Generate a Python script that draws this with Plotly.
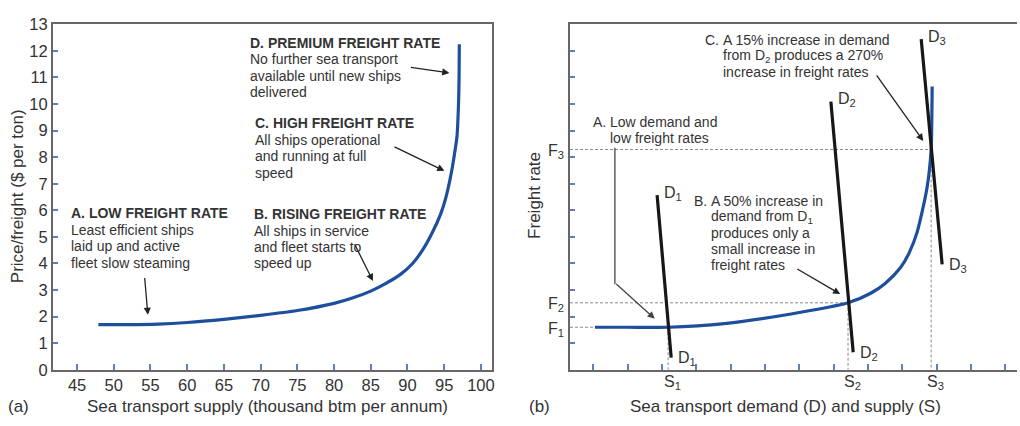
import plotly.graph_objects as go

# ---------------- data ----------------
# Panel (a): supply curve
supply_a = [47.9, 52, 56, 60, 65, 70, 75, 80, 82.5, 85, 87, 89, 90.6, 92, 93.3, 94.5, 95.2, 96.0, 96.5, 96.74, 96.95, 97.03, 97.06]
price_a = [1.70, 1.70, 1.72, 1.78, 1.90, 2.05, 2.23, 2.50, 2.70, 2.96, 3.24, 3.58, 3.97, 4.48, 5.12, 5.85, 6.45, 7.45, 8.30, 8.77, 10.0, 11.1, 12.25]
x_ticks_a = [45, 50, 55, 60, 65, 70, 75, 80, 85, 90, 95, 100]
y_ticks_a = list(range(0, 14))

# Panel (b): supply curve (arbitrary units)
qty_b = [0.05, 1.0, 2.18, 3.82, 5.76, 7.42, 8.08, 8.5, 8.95, 9.2, 9.43, 9.72, 9.84, 9.86, 9.87]
rate_b = [1.60, 1.60, 1.60, 1.74, 2.10, 2.52, 2.88, 3.25, 3.85, 4.40, 5.17, 6.85, 8.29, 9.5, 10.66]
# demand lines D1, D2, D3 (top point, bottom point)
d1_x = [1.86, 2.27]; d1_y = [6.57, 0.46]
d2_x = [6.92, 7.57]; d2_y = [10.09, 0.66]
d3_x = [9.55, 10.16]; d3_y = [12.44, 3.97]
# equilibrium points
S_vals = [2.18, 7.42, 9.84]
F_vals = [1.60, 2.52, 8.29]
x_ticks_b = list(range(0, 13))
y_ticks_b = list(range(1, 13))

# ---------------- layout constants ----------------
W, H = 1020, 426
FONT = "Liberation Sans, Arial, Helvetica, sans-serif"
TXT = "#333333"
FRAME = "#6b6468"
TICK = "#5b7fc0"
BLUE = "#1d4f9c"
XR_A = [41.7, 101.45]
XR_B = [-0.676, 12.34]
YR = [0, 13]


def px(x):
    return x / W


def py(y):
    return 1 - y / H


fig = go.Figure()

# panel (a) curve
fig.add_trace(go.Scatter(x=supply_a, y=price_a, mode="lines",
                         line=dict(color=BLUE, width=3.2, shape="spline", smoothing=0.7),
                         xaxis="x", yaxis="y", hoverinfo="skip"))

# panel (b) dashed guides
for s, f in zip(S_vals, F_vals):
    fig.add_trace(go.Scatter(x=[XR_B[0], s], y=[f, f], mode="lines",
                             line=dict(color="#8a8a8a", width=1, dash="3px,2px"),
                             xaxis="x2", yaxis="y2", hoverinfo="skip"))
    fig.add_trace(go.Scatter(x=[s, s], y=[f, 0], mode="lines",
                             line=dict(color="#8a8a8a", width=1, dash="3px,2px"),
                             xaxis="x2", yaxis="y2", hoverinfo="skip"))

# panel (b) curve
fig.add_trace(go.Scatter(x=qty_b, y=rate_b, mode="lines",
                         line=dict(color=BLUE, width=3.2, shape="spline", smoothing=0.7),
                         xaxis="x2", yaxis="y2", hoverinfo="skip"))

# demand lines
for dx, dy in [(d1_x, d1_y), (d2_x, d2_y), (d3_x, d3_y)]:
    fig.add_trace(go.Scatter(x=dx, y=dy, mode="lines",
                             line=dict(color="#1a1618", width=3.2),
                             xaxis="x2", yaxis="y2", hoverinfo="skip"))

ann = []


def text(t, x, y, size=14, anchor="left", color=TXT):
    ann.append(dict(text=t, x=px(x), y=py(y), xref="paper", yref="paper",
                    xanchor=anchor, yanchor="middle", showarrow=False,
                    font=dict(family=FONT, size=size, color=color), borderpad=0))


def arrow(x0, y0, x1, y1, color="#222222"):
    ann.append(dict(text="", x=px(x1), y=py(y1), xref="paper", yref="paper",
                    ax=x0 - x1, ay=y0 - y1, axref="pixel", ayref="pixel",
                    showarrow=True, arrowhead=2, arrowsize=1.1, arrowwidth=1.3,
                    arrowcolor=color, standoff=0, startstandoff=0,
                    font=dict(family=FONT, size=14, color=TXT)))


# panel (a) text blocks
blocks_a = [
    (250, [("<b>D. PREMIUM FREIGHT RATE</b>", 35.7), ("No further sea transport", 52.7),
           ("available until new ships", 70), ("delivered", 86.7)]),
    (254.3, [("<b>C. HIGH FREIGHT RATE</b>", 119.3), ("All ships operational", 136.7),
             ("and running at full", 154), ("speed", 171)]),
    (253.3, [("<b>B. RISING FREIGHT RATE</b>", 214), ("All ships in service", 231.7),
             ("and fleet starts to", 248.7), ("speed up", 265.7)]),
    (70, [("<b>A. LOW FREIGHT RATE</b>", 213.3), ("Least efficient ships", 230.7),
          ("laid up and active", 247.7), ("fleet slow steaming", 265)]),
]
for x0, lines in blocks_a:
    for t, y0 in lines:
        text(t, x0, y0)

arrow(145, 281, 148.3, 319.3)
arrow(355, 245.7, 374, 284)
arrow(394.3, 144.3, 445.7, 169)
arrow(410.7, 61, 450.7, 66.7)

# panel (b) text blocks (hanging indent)
text("A.", 593.3, 118.3)
text("Low demand and", 610.5, 118.3)
text("low freight rates", 610.5, 135)
text("B.", 695, 200)
for t, y0 in [("A 50% increase in", 200), ("demand from D<sub>1</sub>", 217.3),
              ("produces only a", 234.3), ("small increase in", 251), ("freight rates", 267.7)]:
    text(t, 712, y0)
text("C.", 706, 32.3)
for t, y0 in [("A 15% increase in demand", 32.3), ("from D<sub>2</sub> produces a 270%", 49.3),
              ("increase in freight rates", 66)]:
    text(t, 724, y0)

arrow(798.3, 271.7, 842.7, 297.7)
arrow(878.3, 70.7, 926, 137.7)
arrow(616.7, 287.3, 656.7, 323.3, color="#444444")

# D labels at the demand line ends
for name, dx, dy in [("1", d1_x, d1_y), ("2", d2_x, d2_y), ("3", d3_x, d3_y)]:
    for i, (xs, ys) in enumerate([(5, 2), (5, -1)]):
        ann.append(dict(text="D<sub>%s</sub>" % name, x=dx[i], y=dy[i], xref="x2", yref="y2",
                        xanchor="left", yanchor="middle", xshift=xs, yshift=ys, showarrow=False,
                        font=dict(family=FONT, size=16, color=TXT)))

# F and S labels
for i, f in enumerate(F_vals):
    ann.append(dict(text="F<sub>%d</sub>" % (i + 1), x=px(568), y=f, xref="paper", yref="y2",
                    xanchor="right", yanchor="middle", yshift=-2, showarrow=False,
                    font=dict(family=FONT, size=16, color=TXT)))
for i, s in enumerate(S_vals):
    ann.append(dict(text="S<sub>%d</sub>" % (i + 1), x=s, y=py(390), xref="x2", yref="paper",
                    xanchor="left", yanchor="middle", xshift=-6, showarrow=False,
                    font=dict(family=FONT, size=16, color=TXT)))

# axis titles and panel letters
text("Sea transport supply (thousand btm per annum)", 268.5, 415, size=17, anchor="center")
text("(a)", 19, 415, size=17, anchor="center")
text("Sea transport demand (D) and supply (S)", 788, 415, size=17, anchor="center")
text("(b)", 540.7, 415, size=17, anchor="center")
ann.append(dict(text="Price/freight ($ per ton)", x=px(17.5), y=py(195), xref="paper", yref="paper",
                textangle=-90, showarrow=False, xanchor="center", yanchor="middle",
                font=dict(family=FONT, size=17, color=TXT)))
ann.append(dict(text="Freight rate", x=px(536.7), y=py(195), xref="paper", yref="paper",
                textangle=-90, showarrow=False, xanchor="center", yanchor="middle",
                font=dict(family=FONT, size=17, color=TXT)))

shapes = [dict(type="line", xref="paper", yref="paper", x0=px(616.7), y0=py(145),
               x1=px(616.7), y1=py(287.3), line=dict(color="#444444", width=1.3))]

ydom = [py(376.7), py(16)]
axis_common = dict(showgrid=False, zeroline=False, showline=True, linecolor=FRAME, linewidth=1.8,
                   ticks="inside", tickcolor=TICK, tickwidth=1.5,
                   tickfont=dict(family=FONT, size=16.5, color=TXT))

fig.update_layout(
    width=W, height=H, margin=dict(l=0, r=0, t=0, b=0),
    paper_bgcolor="white", plot_bgcolor="white", showlegend=False,
    xaxis=dict(domain=[px(53), px(493)], range=XR_A, tickvals=x_ticks_a, ticklen=6,
               mirror=True, anchor="y", **axis_common),
    yaxis=dict(domain=ydom, range=YR, tickvals=y_ticks_a, ticklen=5, mirror=True,
               anchor="x", **axis_common),
    xaxis2=dict(domain=[px(571.7), 1.0], range=XR_B, tickvals=x_ticks_b, ticklen=6,
                showticklabels=False, mirror=True, anchor="y2", **axis_common),
    yaxis2=dict(domain=ydom, range=YR, tickvals=y_ticks_b, ticklen=5, showticklabels=False,
                mirror=False, anchor="x2", **axis_common),
    annotations=ann, shapes=shapes,
)

fig.write_html(
    "out.html",
    config={"displayModeBar": False},
    post_script=(
        "document.body.style.margin='0';document.body.style.padding='0';"
        "var g=document.querySelector('.plotly-graph-div');"
        "g.style.position='fixed';g.style.top='0px';g.style.left='0px';"
    ),
)
